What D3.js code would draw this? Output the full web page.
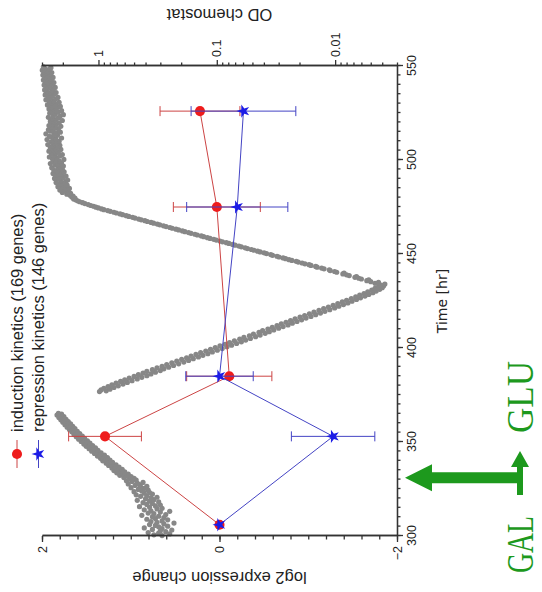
<!DOCTYPE html>
<html lang="en">
    <head>
        <meta charset="utf-8">
        <title>Induction and repression kinetics after GAL to GLU shift</title>
        <script src="https://d3js.org/d3.v7.min.js"></script>
        <style type="text/css">
        body { margin: 0; background: #ffffff; }
        svg { display: block; }
        </style>
    </head>
    <body>
        <script type="text/javascript">

//1. Data
const sampleTimes = [306, 353, 385, 475, 526];
const inductionMean = [0.0, 1.29, -0.11, 0.03, 0.22];
const inductionErr = [0.0, 0.41, 0.48, 0.49, 0.45];
const repressionMean = [0.0, -1.28, 0.0, -0.2, -0.27];
const repressionErr = [0.0, 0.47, 0.38, 0.57, 0.59];

const timeTicks = [300, 350, 400, 450, 500, 550];
const log2Ticks = [2, 0, -2];
const odTicks = [1, 0.1, 0.01];
const switchTime = 331;

const legendLabels = ["induction kinetics (169 genes)", "repression kinetics (146 genes)"];

// OD of the chemostat [time hr, OD]
const odReadings = [
[300.2,.29],[300.6,.34],[301.1,.25],[301.5,.31],[301.8,.38],[302.3,.27],[302.7,.30],[303.2,.24],[303.5,.35],[304.0,.29],
[304.3,.41],[304.9,.31],[305.2,.26],[305.6,.33],[306.1,.37],[306.4,.28],[306.9,.23],[307.3,.32],[307.7,.36],[308.0,.29],
[308.6,.26],[308.9,.39],[309.3,.33],[309.8,.28],[310.2,.35],[310.5,.31],[311.0,.43],[311.4,.27],[311.9,.34],[312.2,.38],
[312.7,.30],[313.1,.25],[313.4,.36],[313.9,.41],[314.4,.32],[314.7,.29],[315.2,.37],[315.6,.45],[316.0,.33],[316.5,.30],
[316.8,.39],[317.3,.35],[317.7,.42],[318.1,.31],[318.6,.37],[319.0,.47],[319.3,.34],[319.8,.40],[320.3,.36],[320.6,.32],
[321.1,.44],[321.4,.39],[321.9,.48],[322.3,.35],[322.8,.41],[323.1,.37],[323.6,.50],[324.0,.43],[324.4,.38],[324.8,.46],
[325.3,.41],[325.7,.53],[326.1,.44],[326.4,.39],[326.9,.49],[327.4,.45],[327.7,.56],[328.2,.47],[328.5,.42],[329.0,.52],
[329.4,.58],[329.8,.48],
[330.3,.55],[330.7,.50],[331.1,.61],[331.6,.53],[332.0,.58],[332.3,.66],[332.9,.56],[333.2,.62],[333.6,.70],[334.1,.60],
[334.5,.66],[334.8,.74],[335.4,.63],[335.7,.70],[336.2,.77],[336.6,.67],[337.0,.73],[337.5,.82],[337.8,.71],[338.3,.78],
[338.7,.86],[339.2,.76],[339.5,.83],[340.0,.92],[340.4,.80],[340.9,.87],[341.3,.96],[341.7,.84],[342.2,.93],[342.5,1.02],
[343.0,.89],[343.4,.98],[343.9,1.08],[344.2,.95],[344.7,1.04],[345.1,1.14],[345.6,1.01],[346.0,1.10],[346.4,1.20],[346.9,1.06],
[347.2,1.16],[347.7,1.27],[348.1,1.12],[348.6,1.22],[348.9,1.33],[349.4,1.18],[349.8,1.29],[350.3,1.40],[350.6,1.24],[351.1,1.35],
[351.5,1.47],[352.0,1.31],[352.3,1.42],[352.8,1.54],[353.2,1.37],[353.7,1.49],[354.0,1.61],[354.5,1.44],[354.9,1.56],[355.4,1.68],
[355.7,1.51],[356.2,1.63],[356.6,1.76],[357.1,1.58],[357.4,1.70],[357.9,1.84],[358.3,1.65],[358.7,1.78],[359.2,1.92],[359.6,1.72],
[360.0,1.86],[360.5,2.00],[360.9,1.80],[361.3,1.94],[361.8,2.08],[362.1,1.88],[362.6,2.02],[363.0,2.16],[363.5,1.96],[363.9,2.10],
[364.3,2.24],[364.8,2.05],[365.2,2.18],
[376.8,.98],[377.2,.86],[377.7,.95],[378.1,.80],[378.6,.90],[379.0,.74],[379.5,.83],[379.9,.68],[380.4,.77],[380.8,.62],
[381.3,.71],[381.7,.57],[382.2,.65],[382.6,.52],[383.1,.60],[383.5,.47],[384.0,.55],[384.4,.43],[384.9,.50],[385.3,.39],
[385.8,.46],[386.2,.36],[386.7,.42],[387.1,.33],[387.6,.39],[388.0,.30],[388.5,.35],[388.9,.28],[389.4,.32],[389.8,.255],
[390.3,.29],[390.7,.232],[391.2,.265],[391.6,.21],[392.1,.24],[392.5,.19],[393.0,.218],[393.4,.173],[393.9,.198],[394.3,.158],
[394.8,.18],[395.2,.143],[395.7,.165],[396.1,.131],[396.6,.15],[397.0,.119],[397.5,.137],[397.9,.109],[398.4,.124],[398.8,.099],
[399.3,.113],[399.7,.09],[400.2,.103],[400.6,.082],[401.1,.094],[401.5,.075],[402.0,.085],[402.4,.068],[402.9,.078],[403.3,.062],
[403.8,.071],[404.2,.057],[404.7,.064],[405.1,.052],[405.6,.059],[406.0,.047],[406.5,.053],[406.9,.043],[407.4,.049],[407.8,.039],
[408.3,.044],[408.7,.036],[409.2,.041],[409.6,.033],[410.1,.037],[410.5,.030],[411.0,.034],[411.4,.0275],[411.9,.031],[412.3,.025],
[412.8,.0285],[413.2,.023],[413.7,.026],[414.1,.021],[414.6,.0238],[415.0,.0192],[415.5,.0218],[415.9,.0176],[416.4,.0198],[416.8,.016],
[417.3,.0181],[417.7,.0146],[418.2,.0165],[418.6,.0133],[419.1,.0151],[419.5,.0122],[420.0,.0137],[420.4,.0111],[420.9,.0125],[421.3,.0101],
[421.8,.0114],[422.2,.0093],[422.7,.0104],[423.1,.0085],[423.6,.0095],[424.0,.0078],[424.5,.0087],[424.9,.0072],[425.4,.008],[425.8,.0066],
[426.3,.0073],[426.7,.0061],[427.2,.0067],[427.6,.0056],[428.1,.0062],[428.5,.0052],[429.0,.0057],[429.4,.0048],[429.9,.0053],[430.3,.0045],
[430.8,.0049],[431.2,.0042],[431.7,.0046],[432.1,.004],[432.6,.0043],[433.0,.0039],[433.5,.0041],[434.0,.0038],
[434.4,.0046],[434.9,.0043],[435.3,.0050],[435.8,.0054],[436.2,.0052],[436.7,.0060],[437.1,.0063],[437.6,.0068],[438.0,.0066],[438.5,.0076],
[438.9,.0080],[439.4,.0086],[439.8,.0084],[440.3,.0097],[440.7,.0101],[441.2,.0110],[441.6,.0112],[442.1,.0124],[442.5,.0130],[443.0,.0142],
[443.4,.0146],[443.9,.0160],[444.3,.0166],[444.8,.0180],[445.2,.0190],[445.7,.0205],[446.1,.0213],[446.6,.0232],[447.0,.0245],[447.5,.0262],
[447.9,.0275],[448.4,.0298],[448.8,.0310],[449.3,.0338],[449.7,.0350],[450.2,.0380],[450.6,.0398],[451.1,.0430],[451.5,.0452],[452.0,.0485],
[452.4,.0510],[452.9,.0550],[453.3,.0575],[453.8,.0620],[454.2,.0650],[454.7,.0700],[455.1,.0735],[455.6,.0790],[456.0,.0830],[456.5,.0895],
[456.9,.0940],[457.4,.101],[457.8,.106],[458.3,.114],[458.7,.120],[459.2,.129],[459.6,.135],[460.1,.146],[460.5,.153],[461.0,.165],
[461.4,.173],[461.9,.186],[462.3,.195],[462.8,.210],[463.2,.221],[463.7,.238],[464.1,.249],[464.6,.268],[465.0,.282],[465.5,.303],
[465.9,.318],[466.4,.342],[466.8,.359],[467.3,.386],[467.7,.405],[468.2,.435],[468.6,.457],[469.1,.491],[469.5,.515],[470.0,.554],
[470.4,.582],[470.9,.625],[471.3,.656],[471.8,.705],[472.2,.740],[472.7,.795],[473.1,.835],[473.6,.90],[474.0,.94],[474.5,1.0],
[474.9,1.05],[475.4,1.10],[475.8,1.16],[476.3,1.22],[476.8,1.30],[477.3,1.36],[477.8,1.44],[478.3,1.50],[478.8,1.56],[479.3,1.62],
[479.8,1.58],[480.3,1.68],[480.8,1.64],[481.3,1.74],
[481.8,1.85],[482.2,1.72],[482.7,2.02],[483.1,1.80],[483.6,1.95],[484.0,2.12],[484.5,1.88],[484.9,1.76],[485.4,2.05],[485.8,2.20],
[486.3,1.92],[486.6,1.84],[487.1,2.15],[487.6,2.00],[488.0,2.28],[488.4,1.90],[488.9,2.08],[489.3,1.82],[489.7,2.22],[490.2,2.35],
[490.6,1.98],[491.1,2.12],[491.5,1.88],[491.9,2.30],[492.4,2.05],[492.8,2.42],[493.3,2.15],[493.7,1.95],[494.1,2.25],[494.6,2.38],
[495.0,2.02],[495.5,2.18],[495.9,2.48],[496.3,2.10],[496.8,1.98],[497.2,2.32],[497.7,2.22],[498.1,2.55],[498.5,2.05],[499.0,2.40],
[499.4,2.15],[499.9,2.30],[500.3,1.96],[500.7,2.45],[501.2,2.25],[501.6,2.60],[502.1,2.12],[502.5,2.35],[502.9,2.02],[503.4,2.50],
[503.8,2.28],[504.3,2.18],[504.7,2.62],[505.1,2.40],[505.6,2.08],[506.0,2.30],[506.5,2.55],[506.9,2.20],[507.3,2.45],[507.8,2.12],
[508.2,2.68],[508.7,2.35],[509.1,2.25],[509.5,2.52],[510.0,2.15],[510.4,2.42],[510.9,2.72],[511.3,2.30],[511.7,2.05],[512.2,2.48],
[512.6,2.60],[513.1,2.22],[513.5,2.38],[513.9,2.78],[514.4,2.28],[514.8,2.10],[515.3,2.55],[515.7,2.42],[516.1,2.65],[516.6,2.18],
[517.0,2.35],[517.5,2.50],[517.9,2.08],[518.3,2.62],[518.8,2.28],[519.2,2.45],[519.7,2.15],[520.1,2.38],[520.5,2.55],[521.0,2.02],
[521.4,2.30],[521.9,2.48],[522.3,2.20],[522.7,2.65],[523.2,2.12],[523.6,2.40],[524.1,1.98],[524.5,2.32],[524.9,2.58],[525.4,2.18],
[525.8,2.45],[526.3,2.05],[526.7,2.35],[527.1,2.62],[527.6,2.25],[528.0,2.50],[528.5,2.10],[528.9,2.42],[529.3,2.70],[529.8,2.28],
[530.2,2.52],[530.7,2.15],[531.1,2.60],[531.5,2.38],[532.0,2.78],[532.4,2.30],[532.9,2.55],[533.3,2.20],[533.7,2.68],[534.2,2.45],
[534.6,2.82],[535.1,2.35],[535.5,2.60],[535.9,2.28],[536.4,2.75],[536.8,2.48],[537.3,2.85],[537.7,2.40],[538.1,2.65],[538.6,2.32],
[539.0,2.78],[539.5,2.55],[539.9,2.88],[540.3,2.45],[540.8,2.70],[541.2,2.38],[541.7,2.82],[542.1,2.58],[542.5,2.92],[543.0,2.50],
[543.4,2.75],[543.9,2.42],[544.3,2.85],[544.7,2.62],[545.2,2.95],[545.6,2.55],[546.1,2.80],[546.5,2.48],[546.9,2.90],[547.4,2.68],
[547.8,2.98],[548.3,2.60],[548.7,2.85],[549.1,2.52],[549.6,2.92]
];

//2. Layout consts. The whole chart is drawn upright in a group that is turned a quarter turn
const svgWidth = 542;
const svgHeight = 592;
const originX = 42;   // screen position of time 300 / log2 = 2
const originY = 536;
const plotW = 470;    // time axis length
const plotH = 355;    // log2 / OD axis length

const red = "#ee1c1c";
const redLine = "#cc4444";
const blue = "#1c1ce6";
const blueLine = "#4444c4";
const green = "#1d991d";
const grey = "#878787";
const axisColor = "#333333";
const tickFont = "'Liberation Sans', Arial, sans-serif";

//3. Scales
const xScale = d3.scaleLinear().domain([300, 550]).range([0, plotW]);
const yScale = d3.scaleLinear().domain([2, -2]).range([0, plotH]);
const odScale = d3.scaleLog().domain([3, 0.003]).range([0, plotH]);

//4. SVG
const svg = d3.select("body")
    .append("svg")
    .attr("width", svgWidth)
    .attr("height", svgHeight);

svg.append("rect")
    .attr("width", svgWidth)
    .attr("height", svgHeight)
    .attr("fill", "#ffffff");

const g = svg.append("g")
    .attr("transform", "translate(" + originX + "," + originY + ") rotate(-90)");

//5. OD dots (behind everything)
g.append("g")
    .selectAll("circle")
    .data(odReadings)
    .enter()
    .append("circle")
    .attr("cx", d => xScale(d[0]))
    .attr("cy", d => odScale(d[1]))
    .attr("r", 2.6)
    .attr("fill", grey);

//6. Axes
function styleAxis(sel) {
    sel.selectAll("path, line").attr("stroke", axisColor).attr("stroke-width", 1.3);
    sel.selectAll("text")
        .attr("font-family", tickFont)
        .attr("font-size", "12.5px")
        .attr("fill", "#222");
}

// time axis (bottom of the upright chart)
const timeMinor = d3.axisBottom(xScale).tickValues(d3.range(300, 551, 5)).tickSize(3.5).tickSizeOuter(0).tickFormat("");
const timeMajor = d3.axisBottom(xScale).tickValues(timeTicks).tickSize(6).tickSizeOuter(0).tickPadding(4);
g.append("g").attr("transform", "translate(0," + plotH + ")").call(timeMinor).call(styleAxis);
g.append("g").attr("transform", "translate(0," + plotH + ")").call(timeMajor).call(styleAxis);

// log2 axis (left)
const log2Minor = d3.axisLeft(yScale).tickValues(d3.range(-2, 2.001, 0.2)).tickSize(3.5).tickSizeOuter(0).tickFormat("");
const log2Major = d3.axisLeft(yScale).tickValues(log2Ticks).tickSize(6).tickSizeOuter(0).tickPadding(4).tickFormat(d3.format("d"));
g.append("g").call(log2Minor).call(styleAxis);
g.append("g").call(log2Major).call(styleAxis);

// OD axis (right, log)
const odMinorValues = [2, 3, 0.2, 0.3, 0.4, 0.5, 0.6, 0.7, 0.8, 0.9,
    0.02, 0.03, 0.04, 0.05, 0.06, 0.07, 0.08, 0.09, 0.003, 0.004, 0.005, 0.006, 0.007, 0.008, 0.009];
const odMinor = d3.axisRight(odScale).tickValues(odMinorValues).tickSize(3.5).tickSizeOuter(0).tickFormat("");
const odMajor = d3.axisRight(odScale).tickValues(odTicks).tickSize(6).tickSizeOuter(0).tickPadding(3).tickFormat(d => String(d));
g.append("g").attr("transform", "translate(" + plotW + ",0)").call(odMinor).call(styleAxis);
g.append("g").attr("transform", "translate(" + plotW + ",0)").call(odMajor).call(styleAxis);

// axis titles
g.append("text")
    .attr("x", plotW / 2)
    .attr("y", plotH + 50)
    .attr("text-anchor", "middle")
    .attr("font-family", "'DejaVu Sans', sans-serif")
    .attr("font-size", "14px")
    .attr("fill", "#222")
    .text("Time [hr]");

g.append("text")
    .attr("transform", "translate(-42," + (plotH / 2) + ") rotate(-90)")
    .attr("dy", "0.35em")
    .attr("text-anchor", "middle")
    .attr("font-family", tickFont)
    .attr("font-size", "16.5px")
    .attr("fill", "#222")
    .text("log2 expression change");

g.append("text")
    .attr("transform", "translate(" + (plotW + 51) + "," + (plotH / 2) + ") rotate(-90)")
    .attr("dy", "0.35em")
    .attr("text-anchor", "middle")
    .attr("font-family", tickFont)
    .attr("font-size", "16.5px")
    .attr("fill", "#222")
    .text("OD chemostat");

//7. Kinetics series: lines, error bars, markers
const series = [
    {name: legendLabels[0], mean: inductionMean, err: inductionErr, color: red, lineColor: redLine, symbol: "circle"},
    {name: legendLabels[1], mean: repressionMean, err: repressionErr, color: blue, lineColor: blueLine, symbol: "star"}
];

const line = d3.line().x(d => xScale(d.t)).y(d => yScale(d.v));
const circleSym = d3.symbol().type(d3.symbolCircle).size(80);
const starSym = d3.symbol().type(d3.symbolStar).size(55);

series.forEach(s => {
    const pts = sampleTimes.map((t, i) => ({t: t, v: s.mean[i], e: s.err[i]}));

    g.append("path")
        .datum(pts)
        .attr("d", line)
        .attr("fill", "none")
        .attr("stroke", s.lineColor)
        .attr("stroke-width", 1);

    const bars = g.append("g").selectAll("g")
        .data(pts.filter(d => d.e > 0))
        .enter()
        .append("g")
        .attr("stroke", s.lineColor)
        .attr("stroke-width", 1);
    bars.append("line")
        .attr("x1", d => xScale(d.t)).attr("x2", d => xScale(d.t))
        .attr("y1", d => yScale(d.v + d.e)).attr("y2", d => yScale(d.v - d.e));
    bars.append("line")
        .attr("x1", d => xScale(d.t) - 5).attr("x2", d => xScale(d.t) + 5)
        .attr("y1", d => yScale(d.v + d.e)).attr("y2", d => yScale(d.v + d.e));
    bars.append("line")
        .attr("x1", d => xScale(d.t) - 5).attr("x2", d => xScale(d.t) + 5)
        .attr("y1", d => yScale(d.v - d.e)).attr("y2", d => yScale(d.v - d.e));

    g.append("g").selectAll("path")
        .data(pts)
        .enter()
        .append("path")
        .attr("transform", d => "translate(" + xScale(d.t) + "," + yScale(d.v) + ")")
        .attr("d", s.symbol === "circle" ? circleSym : starSym)
        .attr("fill", s.color);
});

//8. Legend (above the upright plot)
const legend = g.append("g");
series.forEach((s, i) => {
    const ly = -25 + i * 21.5;
    legend.append("line")
        .attr("x1", 68).attr("x2", 96)
        .attr("y1", ly).attr("y2", ly)
        .attr("stroke", s.lineColor)
        .attr("stroke-width", 1);
    legend.append("path")
        .attr("transform", "translate(82," + ly + ")")
        .attr("d", s.symbol === "circle" ? circleSym : starSym)
        .attr("fill", s.color);
    legend.append("text")
        .attr("x", 104)
        .attr("y", ly)
        .attr("dy", "0.35em")
        .attr("font-family", tickFont)
        .attr("font-size", "16.5px")
        .attr("fill", "#222")
        .text(s.name);
});

//9. GAL -> GLU switch annotation
const ax = xScale(switchTime);
const bigArrow = [[ax - 5.5, 478], [ax - 5.5, 390], [ax - 13.5, 390], [ax, 363], [ax + 13.5, 390], [ax + 5.5, 390], [ax + 5.5, 478]];
const smallArrow = [[41, 475], [69, 475], [69, 469], [85, 478], [69, 487], [69, 481], [41, 481]];
g.append("polygon").attr("points", bigArrow.map(p => p.join(",")).join(" ")).attr("fill", green);
g.append("polygon").attr("points", smallArrow.map(p => p.join(",")).join(" ")).attr("fill", green);

[["GAL", -37, 57], ["GLU", 103, 72]].forEach(d => {
    g.append("text")
        .attr("transform", "translate(" + d[1] + ",491) scale(1,1.25)")
        .attr("textLength", d[2])
        .attr("lengthAdjust", "spacingAndGlyphs")
        .attr("font-family", "'Liberation Serif', 'Times New Roman', serif")
        .attr("font-size", "30px")
        .attr("fill", green)
        .text(d[0]);
});

</script>
</body>
</html>
